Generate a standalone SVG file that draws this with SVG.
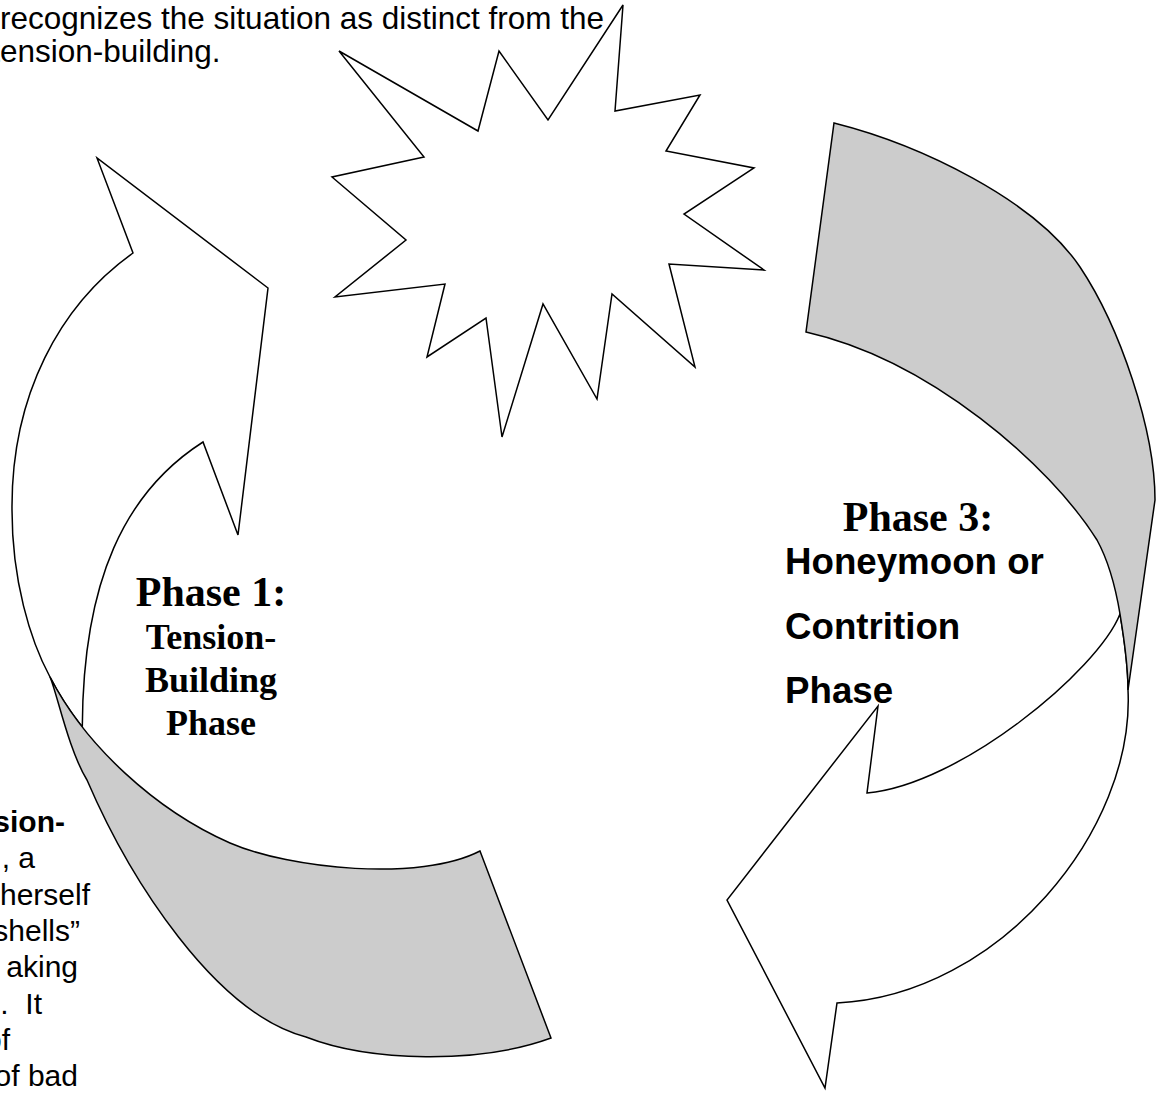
<svg xmlns="http://www.w3.org/2000/svg" width="1156" height="1094" viewBox="0 0 1156 1094">
<style>
.shape{stroke:#000;stroke-width:1.5;stroke-linejoin:miter;}
.white{fill:#fff;}
.gray{fill:#cccccc;}
.body{font-family:"Liberation Sans",Arial,sans-serif;font-size:31.5px;fill:#000;}
.bodyL{font-family:"Liberation Sans",Arial,sans-serif;font-size:30px;fill:#000;}
.ph{font-family:"Liberation Serif","Times New Roman",serif;font-weight:bold;fill:#000;text-anchor:middle;}
.ph3{font-family:"Liberation Sans",Arial,sans-serif;font-weight:bold;font-size:36.7px;fill:#000;}
</style>
<rect width="1156" height="1094" fill="#fff"/>
<g id="text-top">
<text class="body" x="0" y="29">recognizes the situation as distinct from the</text>
<text class="body" x="-8.8" y="62">tension-building.</text>
</g>
<g id="text-left" text-anchor="end">
<text class="bodyL" x="65" y="832" font-weight="bold">sion-</text>
<text class="bodyL" x="35" y="868">, a</text>
<text class="bodyL" x="90" y="905">herself</text>
<text class="bodyL" x="80" y="941">shells”</text>
<text class="bodyL" x="78" y="977">aking</text>
<text class="bodyL" x="42" y="1014" xml:space="preserve">.  It</text>
<text class="bodyL" x="10" y="1050">of</text>
<text class="bodyL" x="78" y="1086">of bad</text>
</g>
<g id="star">
<polygon class="shape white" points="339,51 478,131 499,51 548,120 623,5 615,111 700,95 666,151 754,168 684,214 764,270 669,264 695,367 612,294 597,399 543,304 502,437 486,318 427,357 445,284 335,297 406,240 332,177 424,157"/>
</g>
<g id="arrow-phase1">
<path class="shape white" d="M50,677 C30,640 12,580 12,510 C11,395 60,305 133,253 L97,158 L268,288 L238,535 L203,442 C125,492 83,580 82.3,727 C69.7,710.8 58.75,694 50,677 Z"/>
<path class="shape gray" d="M50,677 C57,693 68.5,750 87,780 C130,880 215,1013 306,1037 C370,1062 480,1064 551,1038 L480,851 C420,882 290,869 230,843 C155,810 85,745 50,677 Z"/>
</g>
<g id="arrow-phase3">
<path class="shape white" d="M1120,614 C1098,670 960,785 867,793 L878,706 L727,900 L825,1088 L837,1003 C1000,995 1135,830 1128,690 C1128,665 1124,638 1120,614 Z"/>
<path class="shape gray" d="M834,123 C921,145 1035,200 1080,267 C1120,327 1155,430 1155,500 L1128,690 C1128,665 1124,638 1120,614 C1116,590 1108,560 1097,540 C1050,465 930,360 806,332 Z"/>
</g>
<g id="connectors"/>
<g id="label-phase1">
<text class="ph" x="211" y="606" font-size="42">Phase 1:</text>
<text class="ph" x="211" y="649" font-size="36">Tension-</text>
<text class="ph" x="211" y="692" font-size="36">Building</text>
<text class="ph" x="211" y="735" font-size="36">Phase</text>
</g>
<g id="label-phase3">
<text class="ph" x="918" y="531" font-size="42">Phase 3:</text>
<text class="ph3" x="785" y="574">Honeymoon or</text>
<text class="ph3" x="785" y="639">Contrition</text>
<text class="ph3" x="785" y="703">Phase</text>
</g>
</svg>
